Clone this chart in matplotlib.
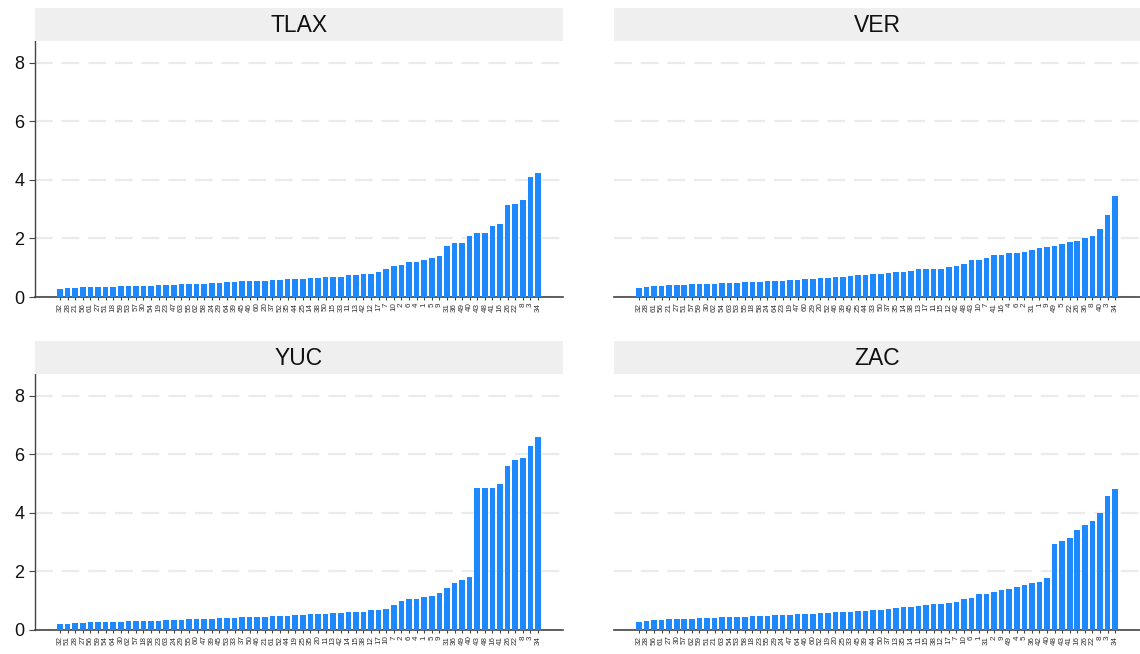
import matplotlib
matplotlib.use("Agg")
import matplotlib.pyplot as plt

plt.rcParams['font.family'] = ['Liberation Sans', 'DejaVu Sans']

# state panels, bars sorted ascending (label = municipality id)
tlax_labels = [32, 28, 21, 56, 61, 27, 51, 18, 59, 53, 57, 30, 54, 19, 23, 47, 63, 55, 62, 58,
               24, 29, 64, 39, 45, 46, 60, 20, 37, 52, 35, 44, 25, 14, 38, 50, 15, 33, 11, 13,
               42, 12, 17, 7, 10, 2, 6, 4, 1, 5, 9, 31, 36, 49, 40, 43, 48, 41, 16, 26,
               22, 8, 3, 34]
tlax_values = [0.29, 0.30, 0.32, 0.33, 0.33, 0.34, 0.35, 0.35, 0.36, 0.36, 0.37,
               0.38, 0.39, 0.40, 0.41, 0.42, 0.43, 0.44, 0.45, 0.46, 0.47,
               0.48, 0.50, 0.52, 0.53, 0.54, 0.55, 0.56, 0.57, 0.58, 0.60, 0.61, 0.62, 0.64, 0.66, 0.68,
               0.70, 0.70, 0.74, 0.74, 0.77, 0.77, 0.84, 0.94, 1.05, 1.11, 1.18, 1.18, 1.28, 1.35,
               1.39, 1.76, 1.83, 1.86, 2.07, 2.20, 2.20, 2.41, 2.48, 3.16, 3.19, 3.30, 4.11, 4.25]

ver_labels = [32, 28, 61, 56, 21, 27, 51, 57, 59, 30, 62, 54, 63, 53, 55, 18, 58, 24, 64, 23,
              19, 47, 60, 29, 20, 52, 46, 39, 45, 25, 44, 33, 50, 37, 35, 14, 38, 13, 17, 11,
              15, 12, 42, 48, 43, 10, 7, 41, 16, 4, 6, 2, 31, 1, 9, 49, 5, 22, 26, 36,
              8, 40, 3, 34]
ver_values = [0.32, 0.35, 0.36, 0.38, 0.40, 0.41, 0.42, 0.43, 0.44, 0.45, 0.46, 0.47, 0.48,
              0.49, 0.50, 0.51, 0.52, 0.53, 0.54, 0.55, 0.57, 0.59, 0.61, 0.62, 0.64, 0.66,
              0.68, 0.70, 0.72, 0.74, 0.76, 0.78, 0.80, 0.82, 0.84,
              0.87, 0.90, 0.94, 0.94, 0.94, 0.97, 1.01, 1.07, 1.14, 1.25, 1.25, 1.35, 1.45,
              1.45, 1.49, 1.52, 1.55, 1.60, 1.67, 1.70, 1.74, 1.81, 1.87, 1.91, 2.00, 2.07,
              2.32, 2.80, 3.45]

yuc_labels = [32, 51, 28, 27, 56, 59, 54, 64, 30, 62, 57, 18, 58, 23, 63, 24, 29, 55, 60, 47,
              39, 45, 53, 33, 37, 50, 46, 21, 61, 52, 44, 19, 25, 35, 20, 11, 13, 42, 14, 15,
              38, 12, 17, 10, 7, 2, 6, 4, 1, 5, 9, 31, 36, 49, 40, 43, 48, 16, 41, 26,
              22, 8, 3, 34]
yuc_values = [0.20, 0.22, 0.24, 0.25, 0.26, 0.27, 0.28, 0.28, 0.29, 0.30, 0.30, 0.31, 0.31,
              0.32, 0.33, 0.34, 0.35, 0.36, 0.37, 0.38, 0.39, 0.40, 0.41, 0.42, 0.43, 0.44,
              0.45, 0.46, 0.47, 0.48, 0.49, 0.50, 0.51, 0.53, 0.54, 0.55,
              0.57, 0.57, 0.60, 0.60, 0.60, 0.67, 0.67, 0.71, 0.84, 0.98, 1.05, 1.05, 1.12,
              1.15, 1.25, 1.42, 1.59, 1.70, 1.80, 4.84, 4.84, 4.87, 4.98, 5.59, 5.80, 5.87,
              6.28, 6.58]

zac_labels = [32, 28, 56, 61, 27, 30, 57, 62, 59, 51, 21, 63, 54, 53, 58, 18, 23, 55, 29, 24,
              47, 64, 46, 60, 52, 19, 20, 25, 33, 45, 39, 44, 50, 37, 13, 35, 14, 11, 15, 38,
              12, 17, 7, 10, 6, 1, 31, 2, 9, 49, 4, 5, 36, 42, 40, 48, 43, 41, 16, 26,
              22, 8, 3, 34]
zac_values = [0.29, 0.31, 0.33, 0.35, 0.36, 0.37, 0.38, 0.39, 0.40, 0.41, 0.42, 0.43, 0.44,
              0.45, 0.46, 0.47, 0.48, 0.49, 0.50, 0.51, 0.52, 0.53, 0.55, 0.56, 0.57, 0.58,
              0.60, 0.61, 0.62, 0.64, 0.66, 0.68, 0.70, 0.72, 0.75,
              0.78, 0.78, 0.81, 0.84, 0.88, 0.88, 0.91, 0.95, 1.05, 1.08, 1.22, 1.22, 1.29,
              1.36, 1.39, 1.46, 1.53, 1.60, 1.63, 1.77, 2.93, 3.03, 3.14, 3.41, 3.58, 3.72,
              4.00, 4.57, 4.81]

panels = [("TLAX", tlax_labels, tlax_values),
          ("VER", ver_labels, ver_values),
          ("YUC", yuc_labels, yuc_values),
          ("ZAC", zac_labels, zac_values)]

W, H = 1140, 654
fig = plt.figure(figsize=(W / 100, H / 100), dpi=100)

# pixel boxes: (left, right, top, bottom) of plot area
boxes = [(35, 563, 41, 297), (614, 1140, 41, 297),
         (35, 563, 374, 630), (614, 1140, 374, 630)]
strip_h = 33

for i, (name, labels, values) in enumerate(panels):
    l, r, t, b = boxes[i]
    ax = fig.add_axes([l / W, 1 - b / H, (r - l) / W, (b - t) / H])
    x = list(range(len(values)))
    ax.bar(x, values, width=0.74, color="#1e88ff", zorder=3)
    ax.set_xlim(-3.3, len(values) - 1 + 3.3)
    ax.set_ylim(0, 8.75)
    ax.set_yticks([0, 2, 4, 6, 8])
    ax.yaxis.grid(True, color="#ebebeb", linestyle=(0, (8, 4)), linewidth=1.6, zorder=0)
    ax.set_xticks(x)
    ax.set_xticklabels([str(v) for v in labels], rotation=90, fontsize=5.8, color="#333333")
    ax.tick_params(axis="x", length=2, pad=2, color="#444444")
    for s in ["top", "right"]:
        ax.spines[s].set_visible(False)
    ax.spines["bottom"].set_color("#444444")
    ax.spines["bottom"].set_linewidth(1.2)
    if i % 2 == 0:
        ax.spines["left"].set_color("#444444")
        ax.spines["left"].set_linewidth(1.0)
        ax.tick_params(axis="y", labelsize=13, length=4, color="#444444", labelcolor="#111111")
    else:
        ax.spines["left"].set_visible(False)
        ax.tick_params(axis="y", labelleft=False, length=0)

    sax = fig.add_axes([l / W, 1 - t / H, (r - l) / W, strip_h / H])
    sax.set_facecolor("#efefef")
    sax.set_xticks([])
    sax.set_yticks([])
    for s in sax.spines.values():
        s.set_visible(False)
    sax.text(0.5, 0.48, name, ha="center", va="center", fontsize=16.5, color="#111111",
             transform=sax.transAxes)

fig.savefig("out.png", dpi=100)
